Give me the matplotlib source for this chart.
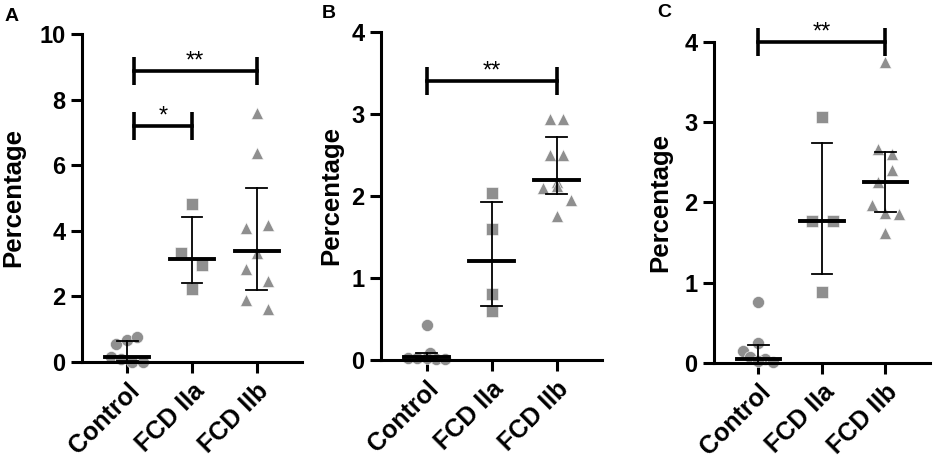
import matplotlib
matplotlib.use("Agg")
import matplotlib.pyplot as plt
import numpy as np

plt.rcParams['font.family'] = ['Liberation Sans', 'DejaVu Sans']

groups = ["Control", "FCD IIa", "FCD IIb"]

# panel A
a_ctrl = [0.55, 0.67, 0.75, 0.16, 0.09, 0.01, 0.01]
a_ctrl_dx = [-0.17, 0.0, 0.15, -0.25, -0.09, 0.07, 0.24]
a_iia = [4.82, 3.31, 2.95, 2.21]
a_iia_dx = [0.0, -0.17, 0.16, 0.0]
a_iib = [7.59, 6.38, 4.09, 4.17, 3.31, 2.82, 2.46, 1.90, 1.60]
a_iib_dx = [0.0, 0.0, -0.17, 0.17, 0.0, -0.17, 0.17, -0.17, 0.17]
a_center = [0.15, 3.15, 3.39]
a_low = [0.02, 2.41, 2.19]
a_high = [0.64, 4.41, 5.31]

# panel B
b_ctrl = [0.43, 0.09, 0.02, 0.02, 0.01, 0.01, 0.03]
b_ctrl_dx = [0.0, 0.05, -0.28, -0.14, 0.14, 0.28, 0.0]
b_iia = [2.04, 1.60, 0.81, 0.60]
b_iia_dx = [0.0, 0.0, 0.0, 0.0]
b_iib = [2.94, 2.94, 2.50, 2.50, 2.17, 2.12, 2.10, 1.95, 1.75]
b_iib_dx = [-0.1, 0.1, -0.1, 0.1, 0.0, 0.0, -0.21, 0.23, 0.0]
b_center = [0.04, 1.21, 2.19]
b_low = [0.01, 0.66, 2.02]
b_high = [0.09, 1.93, 2.72]

# panel C
c_ctrl = [0.755, 0.15, 0.25, 0.08, 0.05, 0.01, 0.02]
c_ctrl_dx = [0.0, -0.25, 0.0, -0.13, 0.11, 0.23, 0.0]
c_iia = [3.07, 1.77, 1.77, 0.89]
c_iia_dx = [0.0, -0.16, 0.17, 0.0]
c_iib = [3.75, 2.67, 2.60, 2.40, 2.25, 1.97, 1.87, 1.86, 1.62]
c_iib_dx = [0.0, -0.12, 0.1, 0.1, -0.12, -0.22, 0.0, 0.22, 0.0]
c_center = [0.055, 1.77, 2.25]
c_low = [0.0, 1.11, 1.88]
c_high = [0.23, 2.74, 2.63]

# significance bars: (x start, x end, y, label)
a_sig = [(0.1, 2, 8.86, "**"), (0.1, 1, 7.2, "*")]
b_sig = [(0, 2, 3.40, "**")]
c_sig = [(0, 2, 4.0, "**")]

grey = "#8f8f8f"
markers = ["o", "s", "^"]


def draw_panel(ax, pts, dxs, center, low, high, sigs, ymax, ystep):
    for i, (vals, dx) in enumerate(zip(pts, dxs)):
        xs = i + np.array(dx)
        ax.scatter(xs, vals, marker=markers[i], s=75, color=grey,
                   edgecolors="white", linewidths=0.4, zorder=2, clip_on=False)
    for i in range(3):
        ax.plot([i - 0.34, i + 0.34], [center[i], center[i]], color="black", lw=2.8, zorder=3)
        ax.plot([i, i], [low[i], high[i]], color="black", lw=1.3, zorder=3)
        for y in (low[i], high[i]):
            ax.plot([i - 0.16, i + 0.16], [y, y], color="black", lw=1.3, zorder=3)
    for x0, x1, y, lab in sigs:
        ax.plot([x0, x1], [y, y], color="black", lw=2.6, clip_on=False, zorder=4)
        ax.plot([x0, x1], [y, y], ls="none", marker="|", ms=20, mew=2.6,
                color="black", clip_on=False, zorder=4)
        ax.annotate(lab, ((x0 + x1) / 2, y), xytext=(0, -1), textcoords="offset points",
                    ha="center", va="bottom", fontsize=17, annotation_clip=False)
    ax.set_xlim(-0.7, 2.7)
    ax.set_ylim(0, ymax)
    ax.set_yticks(np.arange(0, ymax + 0.01, ystep))
    ax.set_xticks(range(3))
    ax.set_xticklabels(groups, rotation=45, ha="right", rotation_mode="anchor",
                       fontsize=18, fontweight="bold")
    for lab in ax.get_yticklabels():
        lab.set_fontweight("bold")
        lab.set_fontsize(17)
    ax.spines["top"].set_visible(False)
    ax.spines["right"].set_visible(False)
    ax.spines["left"].set_linewidth(2.2)
    ax.spines["bottom"].set_linewidth(2.2)
    ax.tick_params(width=2.2, length=8, pad=4)
    ax.set_ylabel("Percentage", fontsize=18.5, fontweight="bold")


fig = plt.figure(figsize=(9.35, 4.62), dpi=100)
axA = fig.add_axes([0.0877, 0.2165, 0.2353, 0.710])
axB = fig.add_axes([0.4075, 0.2208, 0.2364, 0.710])
axC = fig.add_axes([0.7636, 0.2143, 0.2310, 0.695])

draw_panel(axA, [a_ctrl, a_iia, a_iib], [a_ctrl_dx, a_iia_dx, a_iib_dx],
           a_center, a_low, a_high, a_sig, 10, 2)
draw_panel(axB, [b_ctrl, b_iia, b_iib], [b_ctrl_dx, b_iia_dx, b_iib_dx],
           b_center, b_low, b_high, b_sig, 4, 1)
draw_panel(axC, [c_ctrl, c_iia, c_iib], [c_ctrl_dx, c_iia_dx, c_iib_dx],
           c_center, c_low, c_high, c_sig, 4, 1)

axA.yaxis.set_label_coords(-0.259, 0.5)
axB.yaxis.set_label_coords(-0.172, 0.5)
axC.yaxis.set_label_coords(-0.194, 0.5)

fig.text(0.005, 0.965, "A", fontsize=14, fontweight="bold", va="center")
fig.text(0.344, 0.970, "B", fontsize=14, fontweight="bold", va="center")
fig.text(0.703, 0.972, "C", fontsize=14, fontweight="bold", va="center")

fig.savefig("out.png", dpi=100)
